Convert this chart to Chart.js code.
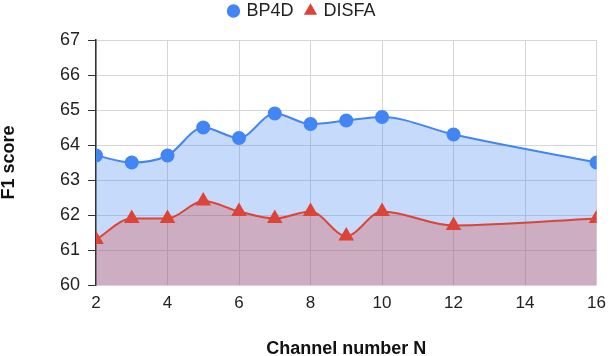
<!DOCTYPE html>
<html>
<head>
<meta charset="utf-8">
<script src="https://cdn.jsdelivr.net/npm/chart.js@4/dist/chart.umd.min.js"></script>
<style>
  html, body { margin: 0; padding: 0; background: #fff; }
  #wrap { width: 614px; height: 356px; }
</style>
</head>
<body>
<div id="wrap"><canvas id="chart-area" width="614" height="356"></canvas></div>
<script>
// channel number N
var channels = [2, 3, 4, 5, 6, 7, 8, 9, 10, 12, 16];
// F1 score per dataset
var bp4d  = [63.7, 63.5, 63.7, 64.5, 64.2, 64.9, 64.6, 64.7, 64.8, 64.3, 63.5];
var disfa = [61.3, 61.9, 61.9, 62.4, 62.1, 61.9, 62.1, 61.4, 62.1, 61.7, 61.9];
var xTicks = [2, 4, 6, 8, 10, 12, 14, 16];
var yTicks = [60, 61, 62, 63, 64, 65, 66, 67];

function toPoints(xs, ys) {
	return xs.map(function(x, i) { return { x: x, y: ys[i] }; });
}

var font = "'Liberation Sans', Arial, sans-serif";
Chart.defaults.font.family = font;
Chart.defaults.color = '#222';

// keep the legend band a fixed height
var legendBand = {
	id: 'legendBand',
	afterInit: function(chart) {
		var lg = chart.legend;
		if (!lg) return;
		var fit = lg.fit;
		lg.fit = function() {
			fit.call(this);
			this.height = 51;
		};
	}
};

var config = {
	type: 'line',
	data: {
		datasets: [{
			label: 'BP4D',
			data: toPoints(channels, bp4d),
			borderColor: '#4285f4',
			backgroundColor: 'rgba(66,133,244,0.3)',
			pointBackgroundColor: '#4285f4',
			pointBorderColor: '#4285f4',
			pointStyle: 'circle',
			pointRadius: 6,
			borderWidth: 2,
			fill: 'origin',
			cubicInterpolationMode: 'monotone',
			order: 1
		}, {
			label: 'DISFA',
			data: toPoints(channels, disfa),
			borderColor: '#db4437',
			backgroundColor: 'rgba(219,68,55,0.3)',
			pointBackgroundColor: '#db4437',
			pointBorderColor: '#db4437',
			pointStyle: 'triangle',
			pointRadius: 7,
			borderWidth: 2,
			fill: 'origin',
			cubicInterpolationMode: 'monotone',
			order: 0
		}]
	},
	options: {
		responsive: false,
		animation: false,
		layout: { padding: { left: 0, right: 9, top: -11, bottom: 0 } },
		plugins: {
			legend: {
				position: 'top',
				labels: {
					usePointStyle: true,
					boxWidth: 8,
					boxHeight: 8,
					padding: 13,
					color: '#222',
					font: { size: 18, family: font },
					sort: function(a, b) { return a.datasetIndex - b.datasetIndex; }
				}
			},
			tooltip: { enabled: false }
		},
		scales: {
			x: {
				type: 'linear',
				min: 2,
				max: 16,
				afterBuildTicks: function(axis) {
					axis.ticks = xTicks.map(function(v) { return { value: v }; });
				},
				grid: { color: '#d6d6d6', drawTicks: false, lineWidth: 1 },
				border: { display: false },
				ticks: { padding: 8, font: { size: 17 }, color: '#222', maxRotation: 0 },
				title: {
					display: true,
					text: 'Channel number N',
					font: { size: 18, weight: 'bold', lineHeight: 0.8 },
					color: '#111',
					padding: { top: 14, bottom: 0 }
				},
				afterFit: function(axis) { axis.height = 71; }
			},
			y: {
				min: 60,
				max: 67,
				afterBuildTicks: function(axis) {
					axis.ticks = yTicks.map(function(v) { return { value: v }; });
				},
				grid: { color: '#d6d6d6', tickColor: '#333', tickLength: 8, lineWidth: 1 },
				border: { display: true, color: '#333', width: 1.5 },
				ticks: { padding: 8, font: { size: 18 }, color: '#222' },
				title: {
					display: true,
					text: 'F1 score',
					font: { size: 18, weight: 'bold', lineHeight: 1 },
					color: '#111',
					padding: { top: 0, bottom: 10 }
				},
				afterFit: function(axis) { axis.width = 96; }
			}
		}
	},
	plugins: [legendBand]
};

var ctx = document.getElementById('chart-area').getContext('2d');
window.myLine = new Chart(ctx, config);
</script>
</body>
</html>
